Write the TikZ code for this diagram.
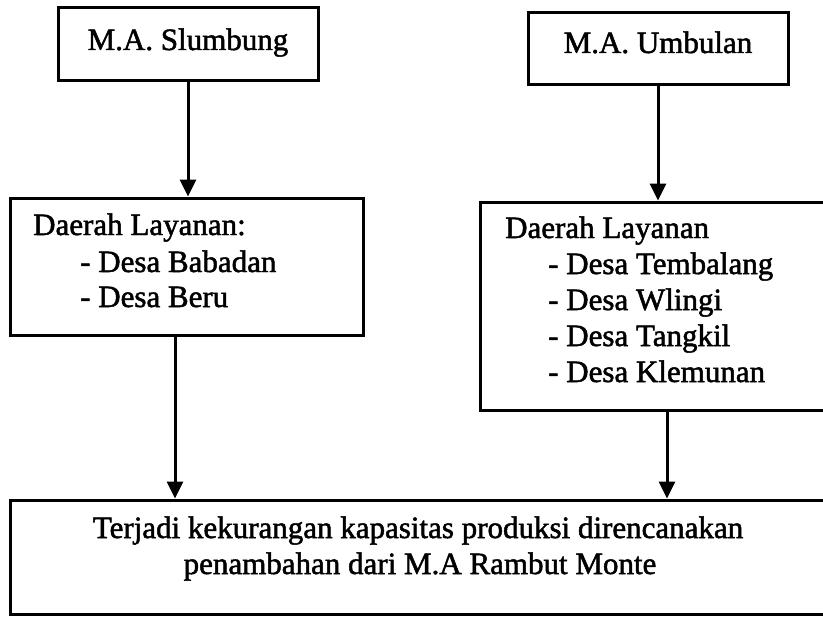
\documentclass[tikz,border=0pt]{standalone}
\usepackage{fontspec}
\setmainfont{Liberation Serif}[FakeBold=1.6]
\usetikzlibrary{arrows.meta}
\begin{document}
\begin{tikzpicture}[x=1pt,y=-1pt,
  box/.style={draw, line width=3pt, rectangle, inner sep=0pt},
  txt/.style={inner sep=0pt, anchor=base west, font=\fontsize{31}{36}\selectfont},
  ctxt/.style={txt, anchor=base},
  flow/.style={line width=3pt, -{Triangle[length=17pt,width=16pt]}}]
\clip (0,0) rectangle (823,618);
\fill[white] (0,0) rectangle (823,618);

% sources
\node[box, minimum width=260pt, minimum height=73pt] (src1) at (188,44.5) {};
\node[box, minimum width=260pt, minimum height=72pt] (src2) at (658,49) {};
\node[ctxt] (src1t) at (188,50) {M.A. Slumbung};
\node[ctxt] (src2t) at (658,53) {M.A. Umbulan};

% service areas
\node[box, minimum width=353pt, minimum height=137pt] (area1) at (186.5,266.5) {};
\node[txt] (a1h) at (33,235) {Daerah Layanan:};
\node[txt] (a1i) at (80,272) {- Desa Babadan};
\node[txt] (a1j) at (80,307) {- Desa Beru};

\node[box, minimum width=360pt, minimum height=208pt] (area2) at (660,306) {};
\node[txt] (a2h) at (505,238) {Daerah Layanan};
\node[txt] (a2i) at (548,274) {- Desa Tembalang};
\node[txt] (a2j) at (548,310) {- Desa Wlingi};
\node[txt] (a2k) at (548,346) {- Desa Tangkil};
\node[txt] (a2l) at (548,382) {- Desa Klemunan};

% outcome
\node[box, minimum width=830pt, minimum height=114pt] (result) at (425,557) {};
\node[ctxt] (r1) at (418,538) {Terjadi kekurangan kapasitas produksi direncanakan};
\node[ctxt] (r2) at (420,574) {penambahan dari M.A Rambut Monte};

% connectors
\draw[flow] (src1.south) -- (src1.south |- area1.north);
\draw[flow] (src2.south) -- (src2.south |- area2.north);
\draw[flow] ([xshift=-11.5pt]area1.south) -- ([xshift=-11.5pt]area1.south |- result.north);
\draw[flow] ([xshift=7pt]area2.south) -- ([xshift=7pt]area2.south |- result.north);
\end{tikzpicture}
\end{document}
